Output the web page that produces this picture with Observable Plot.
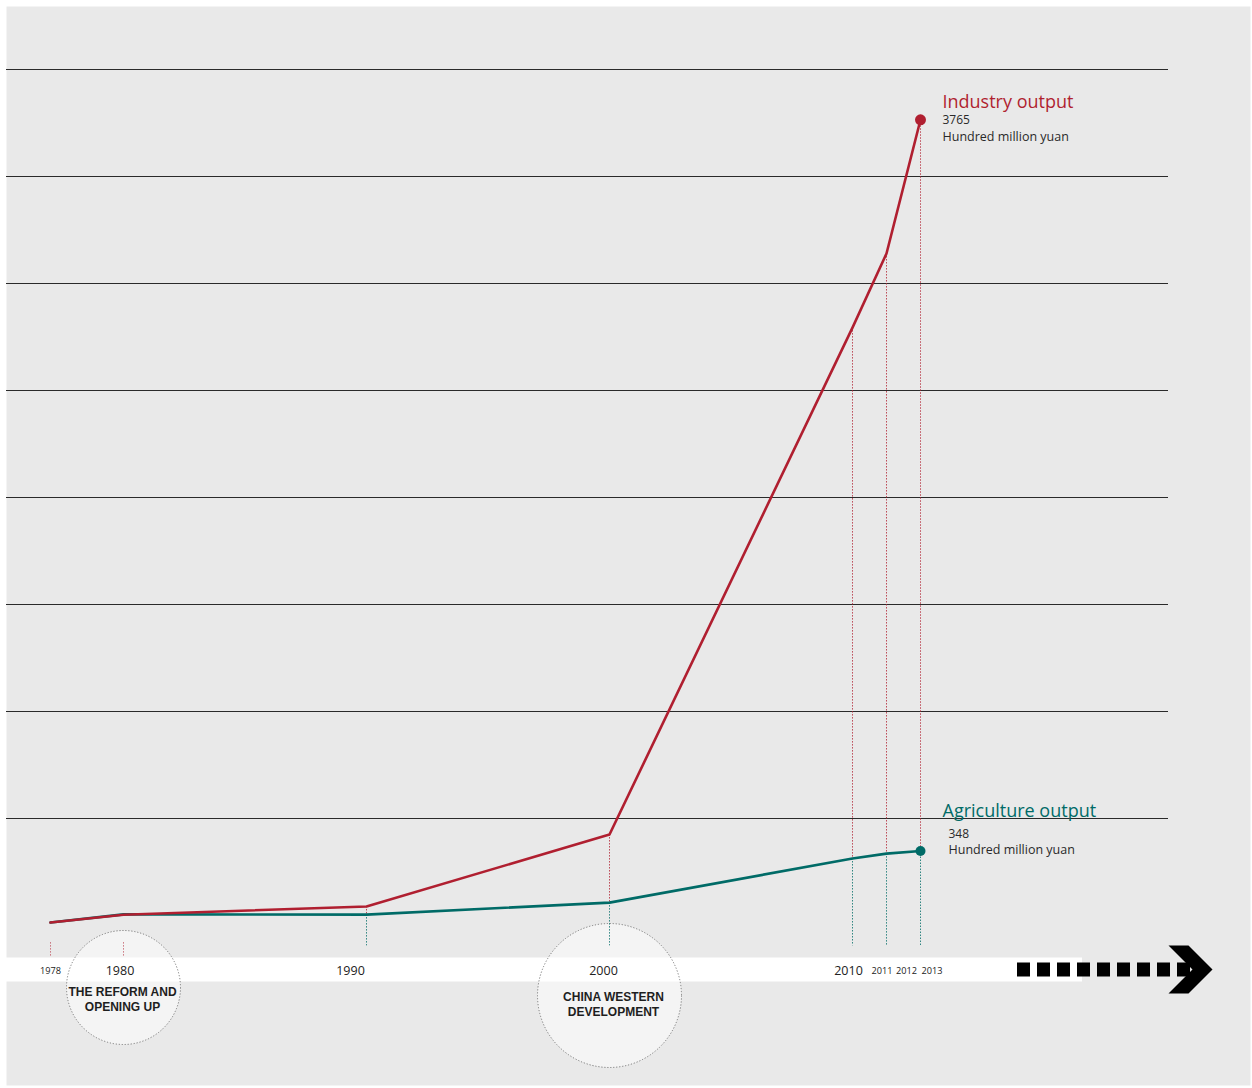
<!DOCTYPE html>
<html>
<head>
<meta charset="utf-8">
<script src="https://cdn.jsdelivr.net/npm/d3@7"></script>
<script src="https://cdn.jsdelivr.net/npm/@observablehq/plot@0.6"></script>
<style>
  html, body { margin: 0; padding: 0; background: #ffffff; }
  #chart svg { display: block; }
</style>
</head>
<body>
<div id="chart"></div>
<script>
// ---- data (hundred million yuan) ----
const years = [1978, 1980, 1990, 2000, 2010, 2011, 2013];
const industry = [14, 50, 89, 425, 2794, 3140, 3765];
const agriculture = [14, 52, 51, 107, 313, 336, 348];
const gridValues = [500, 1000, 1500, 2000, 2500, 3000, 3500, 4000];
const majorTickYears = [1980, 1990, 2000, 2010];
const minorTickYears = [1978, 2011, 2012, 2013];
const eventYears = [1980, 2000];
const eventLabels = ["THE REFORM AND\nOPENING UP", "CHINA WESTERN\nDEVELOPMENT"];
const seriesNames = ["Industry output", "Agriculture output"];
const unitLabel = "Hundred million yuan";

const RED = "#b01f30";
const TEAL = "#006b67";
const FONT = "'Open Sans', 'Noto Sans', sans-serif";
const BOLD = "'Liberation Sans', Arial, sans-serif";

const rows = years.map((year, i) => ({year, industry: industry[i], agriculture: agriculture[i]}));
const last = rows[rows.length - 1];
const early = rows.filter(d => d.year < 1990);
const later = rows.filter(d => d.year >= 1990);

// small per-label nudges so the timeline labels sit as in the original
const labelNudge = {1978: 0, 1980: -3.5, 1990: -16, 2000: -6, 2010: -4, 2011: -4.5, 2012: 3, 2013: 11.5};
const tickLabel = (year, size, dy) =>
  Plot.text([year], {x: d => d, text: d => String(d), frameAnchor: "bottom", dy, dx: labelNudge[year], fontSize: size, fill: "#222"});

const chevron = {
  draw(c) {
    c.moveTo(-22, -24); c.lineTo(-2, -24); c.lineTo(22, 0);
    c.lineTo(-2, 24); c.lineTo(-22, 24); c.lineTo(2, 0); c.closePath();
  }
};

const chart = Plot.plot({
  width: 1252,
  height: 1088,
  marginTop: 69,
  marginBottom: 163,
  marginLeft: 50,
  marginRight: 332,
  style: {background: "transparent", fontFamily: FONT, overflow: "visible"},
  x: {type: "linear", domain: [1978, 1980, 2010, 2011, 2013], range: [50, 123, 852, 886, 920], axis: null},
  y: {domain: [0, 4000], axis: null},
  marks: [
    // grey page panel
    Plot.frame({fill: "#e9e9e9", stroke: null, insetLeft: -44, insetTop: -63, insetRight: -330, insetBottom: -160}),
    // horizontal grid
    Plot.ruleY(gridValues, {stroke: "#2a2a2a", strokeWidth: 1, insetLeft: -44, insetRight: -248}),
    // white timeline band
    Plot.ruleY([0], {stroke: "#ffffff", strokeWidth: 24, dy: 44, insetLeft: -44, insetRight: -162}),
    // event circles
    Plot.dot([eventYears[0]], {x: d => d, frameAnchor: "bottom", dy: 62, r: 57, fill: "#ffffff", fillOpacity: 0.5, stroke: "#7a7a7a", strokeWidth: 1, strokeDasharray: "1.2,1.8"}),
    Plot.dot([eventYears[1]], {x: d => d, frameAnchor: "bottom", dy: 70, r: 72, fill: "#ffffff", fillOpacity: 0.5, stroke: "#7a7a7a", strokeWidth: 1, strokeDasharray: "1.2,1.8"}),
    Plot.text([0], {x: () => eventYears[0], text: () => eventLabels[0], frameAnchor: "bottom", dy: 85, dx: -1, fontFamily: BOLD, fontWeight: "bold", fontSize: 12, lineHeight: 1.17, fill: "#1e1e1e"}),
    Plot.text([0], {x: () => eventYears[1], text: () => eventLabels[1], frameAnchor: "bottom", dy: 90, dx: 4, fontFamily: BOLD, fontWeight: "bold", fontSize: 12, lineHeight: 1.17, fill: "#1e1e1e"}),
    // dotted year guides
    Plot.ruleX(early, {x: "year", y1: -80, y2: -145, stroke: RED, strokeOpacity: 0.6, strokeWidth: 1, strokeDasharray: "1.5,1.5"}),
    Plot.ruleX(later, {x: "year", y1: "industry", y2: "agriculture", stroke: RED, strokeOpacity: 0.8, strokeWidth: 1, strokeDasharray: "1.5,1.5"}),
    Plot.ruleX(later, {x: "year", y1: "agriculture", y2: -95, stroke: TEAL, strokeOpacity: 0.8, strokeWidth: 1, strokeDasharray: "1.5,1.5"}),
    // series lines
    Plot.line(rows, {x: "year", y: "agriculture", stroke: TEAL, strokeWidth: 2.6}),
    Plot.line(rows, {x: "year", y: "industry", stroke: RED, strokeWidth: 2.6}),
    Plot.dot([last], {x: "year", y: "industry", r: 5.5, fill: RED}),
    Plot.dot([last], {x: "year", y: "agriculture", r: 5, fill: TEAL}),
    // end annotations
    Plot.text([last], {x: "year", y: "industry", text: () => seriesNames[0], dx: 22, dy: -18, textAnchor: "start", fontSize: 18, fill: RED}),
    Plot.text([last], {x: "year", y: "industry", text: d => String(d.industry), dx: 22, dy: 0, textAnchor: "start", fontSize: 12, fill: "#2a2a2a"}),
    Plot.text([last], {x: "year", y: "industry", text: () => unitLabel, dx: 22, dy: 17, textAnchor: "start", fontSize: 12.5, fill: "#2a2a2a"}),
    Plot.text([last], {x: "year", y: "agriculture", text: () => seriesNames[1], dx: 22, dy: -40, textAnchor: "start", fontSize: 18, fill: TEAL}),
    Plot.text([last], {x: "year", y: "agriculture", text: d => String(d.agriculture), dx: 28, dy: -17, textAnchor: "start", fontSize: 12, fill: "#2a2a2a"}),
    Plot.text([last], {x: "year", y: "agriculture", text: () => unitLabel, dx: 28, dy: -1, textAnchor: "start", fontSize: 12.5, fill: "#2a2a2a"}),
    // timeline labels
    ...majorTickYears.map(y => tickLabel(y, 12.5, 49)),
    ...minorTickYears.map(y => tickLabel(y, 9.2, 48)),
    // timeline arrow
    Plot.ruleY([0], {stroke: "#000", strokeWidth: 14, strokeDasharray: "13,7", dy: 44, insetLeft: 967, insetRight: -270}),
    Plot.dot([0], {frameAnchor: "bottom-right", dx: 270, dy: 44, symbol: chevron, r: 10, fill: "#000", stroke: null})
  ]
});
document.getElementById("chart").appendChild(chart);
</script>
</body>
</html>
